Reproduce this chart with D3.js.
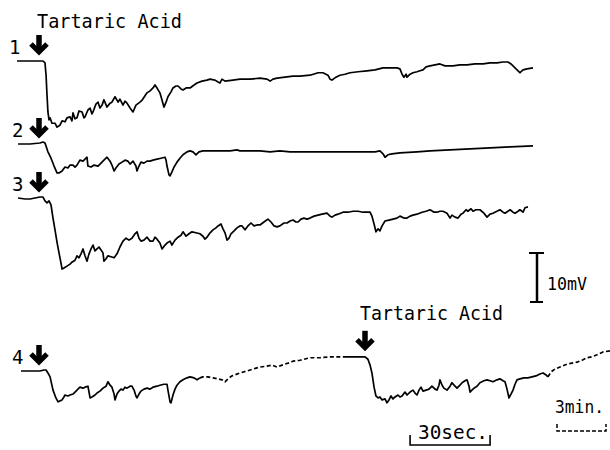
<!DOCTYPE html>
<html>
<head>
<meta charset="utf-8">
<script src="https://cdn.jsdelivr.net/npm/d3@7"></script>
<style>
  body { margin: 0; background: #fff; }
  text { font-family: "DejaVu Sans Mono", monospace; fill: #000; }
</style>
</head>
<body>
<div id="chart"></div>
<script>
// time in sec (fast sweep), potential in mV relative to each trace's resting level
var trace1 = [[0,0],[9.75,0],[10.5,-0.4],[10.9,-2.9],[11.25,-6.9],[11.6,-10.4],[12,-12],[12.4,-11.6],[13.1,-12.7],[14.25,-12.7],[15,-13.5],[16.1,-13.1],[16.9,-12.2],[18,-12.4],[18.75,-11.6],[19.9,-11.4],[20.6,-12.2],[21,-10.6],[21.75,-11.8],[22.5,-11.6],[23.25,-10.2],[24.4,-10.4],[25.1,-11.6],[25.5,-11.4],[26.6,-10],[27.4,-9.6],[28.1,-10.8],[28.5,-10.4],[29.6,-8.8],[30.4,-8.4],[31.1,-9.6],[31.9,-9],[32.6,-7.9],[33.75,-9.4],[34.9,-8.6],[35.6,-8.4],[36.75,-7.3],[37.5,-8],[37.9,-8.4],[38.6,-7.8],[39.75,-9],[40.5,-8.2],[41.25,-8.6],[42.4,-9.6],[43.5,-10.4],[44.6,-9],[46.1,-8.4],[46.9,-8],[48,-7.1],[48.75,-6.5],[49.9,-6.1],[51,-5.5],[51.75,-4.9],[52.5,-5.5],[52.9,-5.9],[53.6,-6.5],[54.4,-8],[55.1,-9.4],[55.9,-8.4],[56.6,-7.3],[57.75,-6.3],[58.5,-5.5],[59.6,-5.1],[60.4,-5.1],[61.5,-5.7],[62.25,-5.9],[63.4,-5.5],[64.9,-5.5],[66.4,-4.9],[67.5,-4.5],[69.4,-4.1],[71.25,-3.9],[72.4,-3.7],[74.25,-3.9],[75.4,-4.3],[76.1,-4.5],[76.9,-3.7],[78,-4.1],[81,-3.9],[83.6,-3.7],[87.4,-3.7],[91.1,-3.5],[93.75,-3.7],[94.9,-4.1],[96,-3.7],[97.5,-3.5],[100.5,-3.3],[103.5,-3.1],[106.1,-3.1],[109.9,-2.9],[112.9,-2.4],[114.75,-2.4],[116.6,-2.9],[117.4,-3.7],[118.1,-3.9],[119.6,-3.3],[121.1,-2.9],[123,-2.7],[124.9,-2.4],[127.9,-2.2],[131.25,-2],[134.25,-1.8],[137.25,-1.4],[139.9,-1.4],[142.5,-1.4],[143.6,-1.6],[144.4,-2.7],[145.1,-3.3],[145.9,-2.7],[146.25,-3.3],[147.4,-2.7],[148.5,-2.4],[150,-2.2],[151.1,-2],[152.25,-1.8],[153.4,-1.2],[154.9,-1],[156.75,-0.8],[158.6,-0.6],[160.5,-1],[163.5,-1],[166.1,-0.8],[168.75,-0.8],[171.75,-0.6],[174.75,-0.6],[177.4,-0.4],[180,-0.4],[182.25,-0.2],[184.1,-0.2],[185.25,-0.6],[186.75,-1.4],[187.9,-2],[188.6,-2.4],[189.75,-1.8],[191.25,-1.6],[193.5,-1.4]];

var trace2 = [[0.4,0],[4.9,0],[8.6,0.2],[9.75,0.4],[10.5,0.2],[11.6,-1.6],[12.75,-2.9],[13.9,-4.5],[15,-5.9],[15.75,-5.9],[16.9,-5.5],[18,-4.7],[19.1,-4.9],[19.9,-4.3],[21,-4.3],[21.75,-4.7],[22.5,-4.3],[23.6,-3.3],[24.75,-3.5],[25.5,-3.1],[26.25,-2.7],[26.6,-4.5],[27.75,-4.7],[28.9,-4.3],[30.4,-4.5],[31.5,-3.9],[32.6,-3.3],[33.75,-2.7],[34.9,-3.5],[35.6,-4.3],[36.4,-5.5],[37.1,-4.9],[38.25,-4.1],[39.4,-3.7],[40.5,-3.3],[41.6,-3.5],[42.4,-4.1],[43.5,-3.5],[44.6,-4.5],[45,-5.5],[45.75,-4.5],[46.5,-3.7],[47.6,-3.9],[48.75,-3.5],[49.9,-3.5],[51,-3.3],[52.5,-3.1],[54,-2.9],[55.5,-2.7],[55.9,-3.3],[56.25,-4.5],[57,-6.3],[57.4,-6.5],[58.1,-5.7],[58.9,-4.7],[60,-3.7],[61.1,-2.9],[62.25,-2.2],[63.75,-1.6],[64.9,-1.4],[66,-1.6],[67.1,-2.2],[68.25,-1.6],[69.75,-1.4],[72.4,-1.4],[76.1,-1.4],[79.9,-1.4],[82.5,-1.2],[83.6,-1.4],[87.4,-1.4],[91.1,-1.4],[94.9,-1.6],[98.6,-1.4],[102.4,-1.6],[106.1,-1.6],[113.6,-1.6],[121.1,-1.6],[128.6,-1.6],[134.25,-1.6],[136.1,-1.4],[137.25,-2],[138,-2.7],[139.1,-2.2],[140.6,-2],[143.6,-1.8],[150,-1.6],[154.9,-1.4],[162.4,-1.2],[169.9,-1],[177.4,-0.8],[184.9,-0.6],[193.5,-0.4]];

var trace3 = [[0.4,0],[3,-0.2],[4.9,-0.2],[6.75,0],[8.6,0.2],[9.75,0.2],[10.5,-0.6],[11.25,-1],[12,-0.6],[12.75,-1.4],[13.5,-4.1],[14.25,-6.5],[15,-9],[15.75,-11.2],[16.5,-13.3],[16.9,-14.5],[17.6,-14.3],[18.75,-13.9],[19.9,-13.5],[20.6,-13.1],[21.75,-12.7],[22.5,-11.8],[23.25,-12.2],[24,-11.4],[24.75,-10.4],[25.5,-11.8],[26.25,-12.9],[27,-11.4],[27.75,-10.4],[28.5,-9.6],[29.25,-10.8],[30,-10.4],[30.75,-10],[31.5,-10.6],[32.25,-11.2],[32.6,-12.9],[33.4,-12.4],[34.1,-11.8],[35.25,-12],[36.4,-12.2],[37.5,-11.4],[38.6,-10],[39.75,-8.8],[40.9,-8.2],[42,-8.6],[43.1,-8.2],[44.25,-7.3],[45,-6.9],[45.75,-8.2],[46.5,-8.8],[47.6,-8.6],[48.75,-8],[49.9,-8.8],[51,-8.8],[51.75,-8],[52.5,-8.4],[53.6,-9.2],[54.4,-10.4],[55.5,-9.6],[56.25,-9.2],[57.4,-8.8],[58.1,-9.6],[59.25,-8.6],[60.4,-8],[61.5,-7.6],[62.25,-6.9],[63.4,-7.8],[64.5,-7.3],[65.6,-6.9],[67.1,-7.1],[68.6,-7.3],[69.75,-7.8],[70.5,-8.4],[71.25,-8],[72.4,-7.1],[73.5,-6.5],[74.6,-6.1],[75.4,-5.7],[76.5,-5.3],[77.25,-6.3],[78,-7.1],[78.75,-8.6],[79.5,-8.2],[80.25,-7.3],[81.4,-6.7],[82.5,-6.1],[83.6,-5.7],[84.4,-5.7],[85.5,-6.5],[86.6,-5.7],[87.75,-5.1],[88.9,-5.7],[90,-5.5],[91.1,-5.5],[92.6,-4.9],[94.1,-4.3],[95.25,-4.9],[96.4,-5.7],[97.5,-5.9],[98.6,-5.7],[100.1,-5.1],[101.25,-5.1],[102.4,-4.7],[103.5,-4.5],[104.6,-4.9],[105.4,-4.9],[106.5,-4.3],[107.6,-4.1],[108.75,-4.3],[109.9,-4.1],[111.4,-3.7],[112.9,-3.5],[114.4,-3.3],[116.25,-3.1],[117.4,-3.7],[118.1,-3.9],[119.25,-3.5],[120.4,-3.3],[122.25,-2.9],[124.1,-2.9],[126,-2.7],[127.9,-2.7],[129.75,-2.9],[132.4,-2.9],[133.1,-3.7],[133.9,-5.3],[134.6,-6.9],[135.4,-6.3],[136.1,-6.7],[136.9,-5.7],[138,-4.7],[139.5,-4.5],[141,-4.3],[142.5,-4.1],[143.6,-3.7],[145.1,-4.1],[146.25,-4.1],[147.4,-3.7],[148.5,-3.5],[150,-3.3],[151.9,-2.9],[153.4,-2.7],[154.9,-2.4],[156.4,-2.9],[157.5,-2.9],[158.6,-2.7],[159.75,-2.7],[161.25,-3.1],[162.4,-4.1],[163.1,-3.5],[164.25,-3.9],[165.4,-4.1],[166.5,-3.3],[167.25,-3.1],[168.4,-2.4],[169.1,-2.7],[170.25,-2.2],[171,-2.7],[172.1,-2.4],[173.6,-2.4],[175.1,-3.1],[176.25,-3.9],[177.4,-3.3],[178.5,-3.1],[180,-2.7],[181.1,-2.4],[182.25,-2.9],[183,-3.1],[184.1,-2.7],[184.9,-2.4],[186,-2.9],[186.75,-3.1],[187.9,-2.7],[188.6,-2.4],[189.75,-2.9],[190.5,-2],[191.6,-1.8]];

// trace 4 is drawn in pieces: solid = fast sweep, dashed = 3 min. slow sweep
var trace4a = [[1.5,0],[8.6,0],[10.1,0.2],[10.9,0.2],[11.6,-0.4],[12.4,-1.2],[13.5,-3.9],[14.6,-5.5],[15.4,-6.3],[16.1,-6.1],[16.9,-5.9],[17.6,-5.3],[18,-4.9],[19.1,-5.1],[19.9,-4.9],[21,-4.7],[21.75,-4.3],[22.5,-3.9],[23.6,-3.3],[24.75,-3.5],[25.5,-3.3],[26.6,-3.1],[27.4,-5.5],[28.1,-5.3],[29.25,-4.9],[30,-4.5],[31.1,-4.1],[32.25,-3.5],[33.4,-3.1],[34.1,-2.2],[34.9,-2.9],[35.6,-3.3],[36.4,-4.7],[36.75,-5.9],[37.5,-4.7],[38.25,-4.1],[39,-3.7],[39.75,-3.9],[40.5,-3.3],[41.25,-3.5],[42.4,-3.1],[43.1,-3.1],[43.9,-3.9],[44.6,-5.1],[45,-5.5],[45.75,-4.7],[46.5,-4.1],[47.6,-3.7],[48.75,-3.5],[49.9,-3.7],[51,-3.3],[52.5,-3.1],[53.6,-2.9],[55.1,-2.7],[56.25,-2.7],[56.6,-3.9],[57.4,-6.3],[57.75,-6.5],[58.5,-4.9],[59.25,-3.7],[60,-2.9],[61.1,-2.2],[62.25,-1.8],[63.75,-1.4],[64.9,-1.2],[66.4,-1.4],[67.5,-1.8],[68.6,-1.4]];
var trace4b = [[68.6,-1.4],[69.75,-1.2],[71.6,-1.2],[73.5,-1.4],[75.4,-1.6],[76.9,-1.8],[78,-2.2],[79.1,-1.6],[80.6,-1],[83.6,-0.4],[86.25,0],[88.5,0.4],[91.1,0.8],[93.75,1],[95.6,1.2],[97.5,0.8],[99.4,1.2],[101.6,1.6],[103.5,2],[106.1,2.2],[109.9,2.7],[113.6,2.7],[117.4,2.9],[122.25,2.9]];
var trace4c = [[122.25,2.9],[126.75,2.9],[130.5,2.9],[131.6,2.4],[132.4,1.2],[133.1,-0.4],[133.9,-3.3],[134.6,-5.1],[135.4,-5.5],[136.1,-5.3],[136.9,-5.9],[138,-5.7],[138.75,-6.5],[139.5,-5.9],[140.25,-5.1],[141,-5.7],[141.75,-5.3],[142.9,-4.9],[143.6,-5.3],[144.4,-5.1],[145.5,-4.3],[146.25,-4.9],[147.4,-4.3],[148.5,-3.9],[149.25,-4.5],[150,-4.9],[150.75,-3.9],[151.5,-3.3],[152.25,-4.1],[153.4,-3.9],[154.5,-3.7],[155.6,-3.1],[156.75,-3.7],[157.5,-3.9],[158.25,-2.9],[158.6,-1.8],[159.4,-2.9],[160.1,-3.5],[161.25,-3.9],[162.4,-3.1],[163.1,-2.4],[164.25,-3.1],[165,-3.5],[166.1,-2.9],[166.9,-2.4],[168,-2],[168.75,-1.8],[169.5,-3.1],[169.9,-4.3],[170.6,-3.9],[171.4,-3.5],[172.5,-3.1],[173.6,-2.4],[175.1,-2],[176.25,-1.8],[177.4,-2],[178.5,-2.2],[180,-1.8],[181.1,-1.6],[182.25,-2],[183,-2.2],[183.75,-3.7],[184.5,-5.5],[185.25,-4.7],[186,-3.9],[186.75,-2.7],[187.5,-1.8],[188.6,-1.6],[190.1,-1.4],[191.6,-1.4],[193.1,-1.2],[194.6,-1],[196.1,-0.6],[197.25,-0.4],[198.4,-0.8],[199.1,-1.2]];
var trace4d = [[199.1,-1.2],[200.25,-0.2],[201.75,0.4],[203.6,0.8],[206.25,1.4],[208.1,1.6],[210,1.8],[211.9,2.2],[213.75,2.7],[215.6,2.9],[217.5,3.3],[219.75,3.9],[222.4,4.1]];

var traceLabels = ["1", "2", "3", "4"];
var stimulusTimes = [8.25, 8.25, 8.25, 8.25, 130.5];
var stimulusTrace = [0, 1, 2, 3, 3];
var stimulusValue = [0, 0, 0, 0, 2.9];
var drugName = "Tartaric Acid";

var width = 610, height = 450;
var traceBase = [61, 144, 198, 371];

var svg = d3.select("#chart")
    .append("svg")
    .attr("width", width)
    .attr("height", height);

var x = d3.scaleLinear().domain([0, 225]).range([17, 617]);
var y = d3.scaleLinear().domain([0, 10]).range([0, -49]);

var line = d3.line()
    .x(d => x(d[0]))
    .y(d => y(d[1]));

var pieces = [
    {trace: 0, data: trace1, dash: null},
    {trace: 1, data: trace2, dash: null},
    {trace: 2, data: trace3, dash: null},
    {trace: 3, data: trace4a, dash: null},
    {trace: 3, data: trace4b, dash: "4,2.5"},
    {trace: 3, data: trace4c, dash: null},
    {trace: 3, data: trace4d, dash: "4,2.5"}
];

svg.selectAll("path.trace")
    .data(pieces)
    .enter()
    .append("path")
    .attr("class", "trace")
    .attr("transform", d => "translate(0," + traceBase[d.trace] + ")")
    .attr("d", d => line(d.data))
    .attr("fill", "none")
    .attr("stroke", "#000")
    .attr("stroke-width", 1.7)
    .attr("stroke-linejoin", "round")
    .attr("stroke-dasharray", d => d.dash);

// trace numbers
svg.selectAll("text.num")
    .data(traceLabels)
    .enter()
    .append("text")
    .attr("class", "num")
    .attr("x", (d, i) => i == 0 ? 9 : 12)
    .attr("y", (d, i) => traceBase[i] - 7)
    .style("font-size", "19px")
    .text(d => d);

// stimulus arrows
var arrows = svg.selectAll("g.arrow")
    .data(stimulusTimes)
    .enter()
    .append("g")
    .attr("class", "arrow")
    .attr("transform", (d, i) => "translate(" + x(d) + "," + (traceBase[stimulusTrace[i]] + y(stimulusValue[i]) - 7) + ")");

arrows.append("line")
    .attr("x1", 0).attr("x2", 0)
    .attr("y1", -19).attr("y2", -3)
    .attr("stroke", "#000")
    .attr("stroke-width", 5.5);
arrows.append("path")
    .attr("d", "M-8,-10L0,-2L8,-10")
    .attr("fill", "none")
    .attr("stroke", "#000")
    .attr("stroke-width", 5);

svg.append("text")
    .attr("x", 37).attr("y", 28)
    .attr("textLength", 145)
    .attr("lengthAdjust", "spacingAndGlyphs")
    .style("font-size", "20px")
    .text(drugName);

svg.append("text")
    .attr("x", 360).attr("y", 320)
    .attr("textLength", 143)
    .attr("lengthAdjust", "spacingAndGlyphs")
    .style("font-size", "20px")
    .text(drugName);

// 10 mV scale bar
var barX = 537, barTop = 253;
var bar = svg.append("g").attr("transform", "translate(" + barX + "," + barTop + ")");
bar.append("line")
    .attr("x1", 0).attr("x2", 0)
    .attr("y1", 0).attr("y2", -y(10))
    .attr("stroke", "#000").attr("stroke-width", 2.5);
bar.append("line")
    .attr("x1", -8).attr("x2", 7)
    .attr("y1", 0).attr("y2", 0)
    .attr("stroke", "#000").attr("stroke-width", 2);
bar.append("line")
    .attr("x1", -7).attr("x2", 6)
    .attr("y1", -y(10)).attr("y2", -y(10))
    .attr("stroke", "#000").attr("stroke-width", 2);
svg.append("text")
    .attr("x", 547).attr("y", 290)
    .attr("textLength", 40)
    .attr("lengthAdjust", "spacingAndGlyphs")
    .style("font-size", "18px")
    .text("10mV");

// 30 sec time bar
var t0 = 147.4;
svg.append("path")
    .attr("d", "M" + x(t0) + ",435V445H" + x(t0 + 30) + "V435")
    .attr("fill", "none")
    .attr("stroke", "#000")
    .attr("stroke-width", 1.6);
svg.append("text")
    .attr("x", 418).attr("y", 439)
    .attr("textLength", 70)
    .attr("lengthAdjust", "spacingAndGlyphs")
    .style("font-size", "19px")
    .text("30sec.");

// 3 min bar (dashed sweep)
svg.append("path")
    .attr("d", "M557,424V431H606V424")
    .attr("fill", "none")
    .attr("stroke", "#000")
    .attr("stroke-width", 1.5)
    .attr("stroke-dasharray", "4,2");
svg.append("text")
    .attr("x", 555).attr("y", 413)
    .attr("textLength", 49)
    .attr("lengthAdjust", "spacingAndGlyphs")
    .style("font-size", "17px")
    .text("3min.");
</script>
